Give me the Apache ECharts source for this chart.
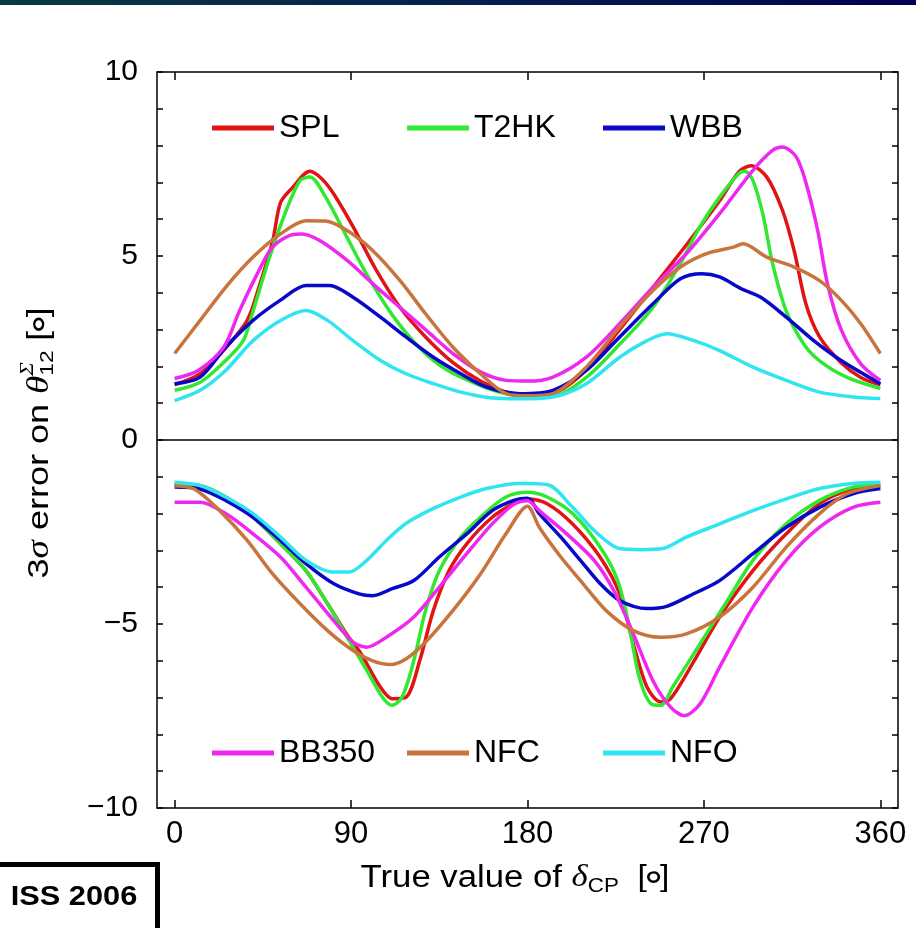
<!DOCTYPE html>
<html><head><meta charset="utf-8">
<script src="https://cdn.jsdelivr.net/npm/echarts@6/dist/echarts.min.js"></script>
<style>html,body{margin:0;padding:0;background:#fff}#c{width:916px;height:928px}</style>
</head><body><div id="c"></div>
<script>
// ---- data (x = true delta_CP in degrees, y = 3 sigma error in degrees) ----
const xTicks = [0, 90, 180, 270, 360];
const yTickInterval = 5;
const seriesNames = ['SPL', 'T2HK', 'WBB', 'BB350', 'NFC', 'NFO'];

const splUp = [[0,1.5],[13,1.8],[26,2.5],[37,3.25],[43,4.15],[50,5.4],[54,6.45],[60,6.85],[69,7.3],[75,7.1],[81,6.7],[91,5.8],[103,4.6],[115,3.6],[128,2.8],[142,2.1],[156,1.6],[169,1.3],[180,1.2],[193,1.26],[210,1.9],[227,3.0],[244,4.15],[261,5.3],[278,6.5],[288,7.3],[294,7.45],[302,7.15],[310,6.25],[316,5.15],[322,3.7],[329,2.8],[340,2.1],[350,1.7],[360,1.5]];
const splLo = [[0,-1.2],[13,-1.24],[26,-1.55],[40,-2.1],[54,-2.82],[67,-3.55],[78,-4.45],[88,-5.3],[95,-5.8],[105,-6.72],[111,-7.03],[118,-6.99],[125,-6.0],[132,-4.63],[140,-3.55],[149,-2.82],[162,-2.1],[173,-1.73],[180,-1.6],[190,-1.73],[203,-2.28],[217,-3.18],[227,-4.18],[234,-5.54],[241,-6.72],[248,-7.12],[253,-7.03],[265,-6.0],[278,-4.81],[295,-3.55],[312,-2.55],[329,-1.73],[346,-1.32],[360,-1.24]];

const t2hkUp = [[0,1.35],[13,1.57],[26,2.16],[35,2.7],[40,3.5],[48,4.9],[57,6.25],[64,7.05],[69,7.15],[77,6.6],[88,5.5],[98,4.5],[111,3.4],[125,2.5],[139,1.9],[156,1.48],[169,1.26],[180,1.2],[193,1.2],[210,1.7],[227,2.6],[244,3.6],[258,4.8],[268,5.8],[278,6.6],[288,7.25],[291,7.3],[295,7.05],[300,6.15],[305,4.8],[312,3.5],[321,2.6],[329,2.15],[343,1.7],[360,1.4]];
const t2hkLo = [[0,-1.2],[13,-1.24],[26,-1.55],[40,-2.1],[54,-2.82],[67,-3.55],[78,-4.45],[88,-5.36],[98,-6.26],[106,-6.99],[111,-7.21],[116,-6.99],[122,-6.0],[128,-4.63],[135,-3.55],[146,-2.64],[156,-2.1],[169,-1.55],[180,-1.42],[190,-1.55],[203,-2.0],[217,-2.91],[226,-3.82],[232,-5.09],[237,-6.45],[243,-7.17],[248,-7.21],[254,-6.72],[268,-5.54],[282,-4.36],[295,-3.27],[312,-2.28],[329,-1.64],[346,-1.28],[360,-1.2]];

const wbbUp = [[0,1.53],[13,1.71],[26,2.52],[40,3.25],[54,3.8],[67,4.2],[79,4.2],[91,3.88],[105,3.34],[118,2.8],[132,2.25],[146,1.8],[159,1.44],[176,1.26],[193,1.35],[210,1.89],[227,2.8],[244,3.7],[258,4.38],[269,4.52],[278,4.43],[289,4.11],[299,3.88],[312,3.34],[326,2.7],[340,2.16],[360,1.53]];
const wbbLo = [[0,-1.28],[13,-1.33],[26,-1.64],[40,-2.1],[54,-2.73],[67,-3.36],[81,-3.9],[94,-4.18],[101,-4.23],[111,-4.04],[122,-3.82],[135,-3.18],[149,-2.55],[162,-1.92],[173,-1.64],[180,-1.58],[186,-2.0],[197,-2.64],[207,-3.27],[217,-3.9],[227,-4.36],[241,-4.58],[251,-4.52],[265,-4.17],[278,-3.82],[295,-3.09],[312,-2.37],[329,-1.83],[346,-1.46],[360,-1.32]];

const bb350Up = [[0,1.67],[12,1.89],[25,2.52],[33,3.5],[42,4.5],[50,5.25],[60,5.58],[65,5.6],[74,5.42],[88,4.88],[101,4.25],[115,3.6],[128,3.0],[142,2.35],[156,1.85],[169,1.62],[180,1.6],[193,1.71],[210,2.25],[227,3.16],[244,4.15],[261,5.06],[278,6.15],[295,7.33],[305,7.87],[310,7.96],[317,7.7],[322,7.0],[328,5.7],[333,4.25],[340,3.0],[350,2.07],[360,1.62]];
const bb350Lo = [[0,-1.69],[13,-1.69],[26,-2.0],[40,-2.55],[54,-3.18],[67,-4.0],[81,-4.9],[91,-5.49],[98,-5.63],[108,-5.36],[122,-4.81],[135,-4.0],[149,-3.09],[162,-2.28],[173,-1.75],[180,-1.65],[186,-1.92],[200,-2.55],[214,-3.27],[224,-4.09],[234,-5.27],[244,-6.54],[253,-7.26],[260,-7.49],[268,-7.17],[278,-6.17],[295,-4.54],[312,-3.27],[329,-2.37],[346,-1.83],[360,-1.69]];

const nfcUp = [[0,2.35],[13,3.25],[26,4.15],[40,4.97],[54,5.6],[67,5.96],[77,5.95],[88,5.69],[101,5.15],[115,4.33],[128,3.43],[142,2.52],[156,1.8],[169,1.26],[180,1.2],[193,1.26],[210,1.98],[227,3.07],[244,4.06],[258,4.7],[271,5.06],[285,5.24],[290,5.33],[302,4.97],[316,4.7],[329,4.33],[340,3.8],[350,3.16],[360,2.35]];
const nfcLo = [[0,-1.24],[10,-1.33],[23,-1.92],[37,-2.73],[50,-3.64],[64,-4.45],[78,-5.18],[91,-5.72],[101,-6.0],[110,-6.1],[118,-5.95],[128,-5.49],[142,-4.63],[156,-3.64],[169,-2.55],[180,-1.8],[186,-2.37],[197,-3.18],[207,-3.82],[220,-4.63],[234,-5.18],[248,-5.36],[261,-5.27],[278,-4.81],[295,-4.0],[312,-2.91],[329,-2.0],[343,-1.46],[360,-1.24]];

const nfoUp = [[0,1.07],[13,1.35],[26,1.89],[40,2.7],[54,3.25],[67,3.52],[78,3.25],[91,2.7],[105,2.16],[118,1.8],[132,1.53],[146,1.3],[162,1.14],[176,1.12],[193,1.17],[210,1.53],[227,2.25],[241,2.7],[251,2.89],[265,2.7],[278,2.43],[295,1.98],[312,1.62],[329,1.3],[346,1.17],[360,1.13]];
const nfoLo = [[0,-1.15],[13,-1.24],[26,-1.55],[40,-2.0],[54,-2.64],[67,-3.27],[81,-3.59],[89,-3.59],[98,-3.27],[108,-2.73],[118,-2.27],[132,-1.86],[146,-1.55],[159,-1.32],[176,-1.18],[190,-1.21],[203,-1.83],[214,-2.46],[227,-2.95],[238,-2.98],[249,-2.95],[261,-2.64],[278,-2.28],[295,-1.92],[312,-1.6],[329,-1.32],[346,-1.18],[360,-1.15]];

// ---- styles ----
const colors = { SPL: '#e01414', T2HK: '#30e830', WBB: '#0808c8', BB350: '#ee28ee', NFC: '#c8743c', NFO: '#30e4f0' };
const curves = {
  SPL: [splUp, splLo], T2HK: [t2hkUp, t2hkLo], WBB: [wbbUp, wbbLo],
  BB350: [bb350Up, bb350Lo], NFC: [nfcUp, nfcLo], NFO: [nfoUp, nfoLo]
};
const SANS = '"Liberation Sans", Arial, sans-serif';
const SERIF = '"Liberation Serif", "DejaVu Serif", serif';
const RING = '"DejaVu Sans", sans-serif';

const chart = echarts.init(document.getElementById('c'), null, { renderer: 'canvas' });

const series = [];
seriesNames.forEach(n => {
  curves[n].forEach(d => {
    series.push({
      type: 'line', name: n, data: d, symbol: 'none', showSymbol: false, smooth: 0.3,
      lineStyle: { color: colors[n], width: 3.5 }, itemStyle: { color: colors[n] },
      emphasis: { disabled: true }
    });
  });
});
series.push({
  type: 'line', name: 'zero', data: [], symbol: 'none',
  markLine: { silent: true, symbol: 'none', label: { show: false },
    lineStyle: { color: '#000', width: 1.5, type: 'solid' }, data: [{ yAxis: 0 }] }
});

const legendPos = [
  { n: 'SPL', left: 212, top: 112 }, { n: 'T2HK', left: 407, top: 112 }, { n: 'WBB', left: 603, top: 112 },
  { n: 'BB350', left: 212, top: 737 }, { n: 'NFC', left: 407, top: 737 }, { n: 'NFO', left: 603, top: 737 }
];
const legends = legendPos.map(p => ({
  data: [p.n], left: p.left, top: p.top, orient: 'horizontal', icon: 'rect',
  itemWidth: 62, itemHeight: 5, padding: 0,
  textStyle: { fontSize: 32, fontFamily: SANS, color: '#000', lineHeight: 32 }
}));

// title layout helper (measures text so pieces line up)
const mctx = document.createElement('canvas').getContext('2d');
function layout(pieces) {
  let x = 0; const items = [];
  pieces.forEach(p => {
    mctx.font = p.font;
    const w = mctx.measureText(p.t).width;
    const px = p.stack ? items[items.length - 1].x : x + (p.dx || 0);
    items.push({ x: px, w, p });
    x = p.stack ? Math.max(x, px + w) : px + w + (p.dxAfter || 0);
  });
  const total = x;
  return items.map(it => ({
    type: 'text', x: it.x - total / 2, y: it.p.dy || 0, silent: true,
    style: { text: it.p.t, font: it.p.font, fill: '#000', textAlign: 'left', textVerticalAlign: 'middle' }
  }));
}

const xTitle = layout([
  { t: 'True value of ', font: '31px ' + SANS },
  { t: 'δ', font: 'italic 31px ' + SERIF },
  { t: 'CP', font: '20px ' + SANS, dy: 8 },
  { t: '  [', font: '30px ' + SANS },
  { t: '∘', font: '38px ' + RING, dx: -6, dxAfter: -6, dy: 1 },
  { t: ']', font: '30px ' + SANS }
]);
const yTitle = layout([
  { t: '3', font: '30px ' + SANS },
  { t: 'σ', font: 'italic 31px ' + SERIF },
  { t: ' error on ', font: '30px ' + SANS },
  { t: 'θ', font: 'italic 31px ' + SERIF },
  { t: 'Σ', font: 'italic 19px ' + SERIF, dy: -12 },
  { t: '12', font: '19px ' + SANS, dy: 8, stack: true },
  { t: ' [', font: '29px ' + SANS },
  { t: '∘', font: '36px ' + RING, dx: -5.5, dxAfter: -5.5, dy: 1 },
  { t: ']', font: '29px ' + SANS }
]);

const option = {
  backgroundColor: '#fff',
  animation: false,
  grid: { left: 157, right: 18, top: 72, bottom: 120, show: true, borderColor: '#000', borderWidth: 1.5, containLabel: false },
  legend: legends,
  xAxis: [
    { type: 'value', position: 'bottom', min: -9, max: 369,
      axisLine: { show: false, onZero: false }, splitLine: { show: false },
      axisTick: { inside: true, length: 8, customValues: xTicks, lineStyle: { color: '#000', width: 1.5 } },
      axisLabel: { customValues: xTicks, fontSize: 31, fontFamily: SANS, color: '#000', margin: 11 } },
    { type: 'value', position: 'top', min: -9, max: 369,
      axisLine: { show: false, onZero: false }, splitLine: { show: false },
      axisTick: { inside: true, length: 8, customValues: xTicks, lineStyle: { color: '#000', width: 1.5 } },
      axisLabel: { show: false } }
  ],
  yAxis: [
    { type: 'value', position: 'left', min: -10, max: 10, interval: yTickInterval,
      axisLine: { show: false, onZero: false }, splitLine: { show: false }, minorSplitLine: { show: false },
      axisTick: { inside: true, length: 6, lineStyle: { color: '#000', width: 1.5 } },
      minorTick: { show: true, splitNumber: 5, length: 6, lineStyle: { color: '#000', width: 1.5 } },
      axisLabel: { fontSize: 30, fontFamily: SANS, color: '#000', margin: 19,
        formatter: v => (v < 0 ? '\u2212' + Math.abs(v) : String(v)) } },
    { type: 'value', position: 'right', min: -10, max: 10, interval: yTickInterval,
      axisLine: { show: false, onZero: false }, splitLine: { show: false }, minorSplitLine: { show: false },
      axisTick: { inside: true, length: 6, lineStyle: { color: '#000', width: 1.5 } },
      minorTick: { show: true, splitNumber: 5, length: 6, lineStyle: { color: '#000', width: 1.5 } },
      axisLabel: { show: false } }
  ],
  series: series,
  graphic: [
    { type: 'rect', left: 0, top: 0, silent: true, shape: { width: 916, height: 5 },
      style: { fill: new echarts.graphic.LinearGradient(0, 0, 1, 0, [
        { offset: 0, color: '#0a3a40' }, { offset: 0.5, color: '#06204e' }, { offset: 1, color: '#000050' }]) } },
    { type: 'group', x: 515, y: 878, scaleX: 1.12, children: xTitle },
    { type: 'group', x: 40, y: 443, rotation: Math.PI / 2, scaleX: 1.2, children: yTitle },
    { type: 'rect', silent: true, x: 0, y: 0, shape: { x: -5, y: 864.5, width: 162.5, height: 80 },
      style: { fill: '#fff', stroke: '#000', lineWidth: 5 } },
    { type: 'text', silent: true, x: 74, y: 897, scaleX: 1.1,
      style: { text: 'ISS 2006', font: 'bold 28px ' + SANS, fill: '#000', textAlign: 'center', textVerticalAlign: 'middle' } }
  ]
};
chart.setOption(option);
</script>
</body></html>
